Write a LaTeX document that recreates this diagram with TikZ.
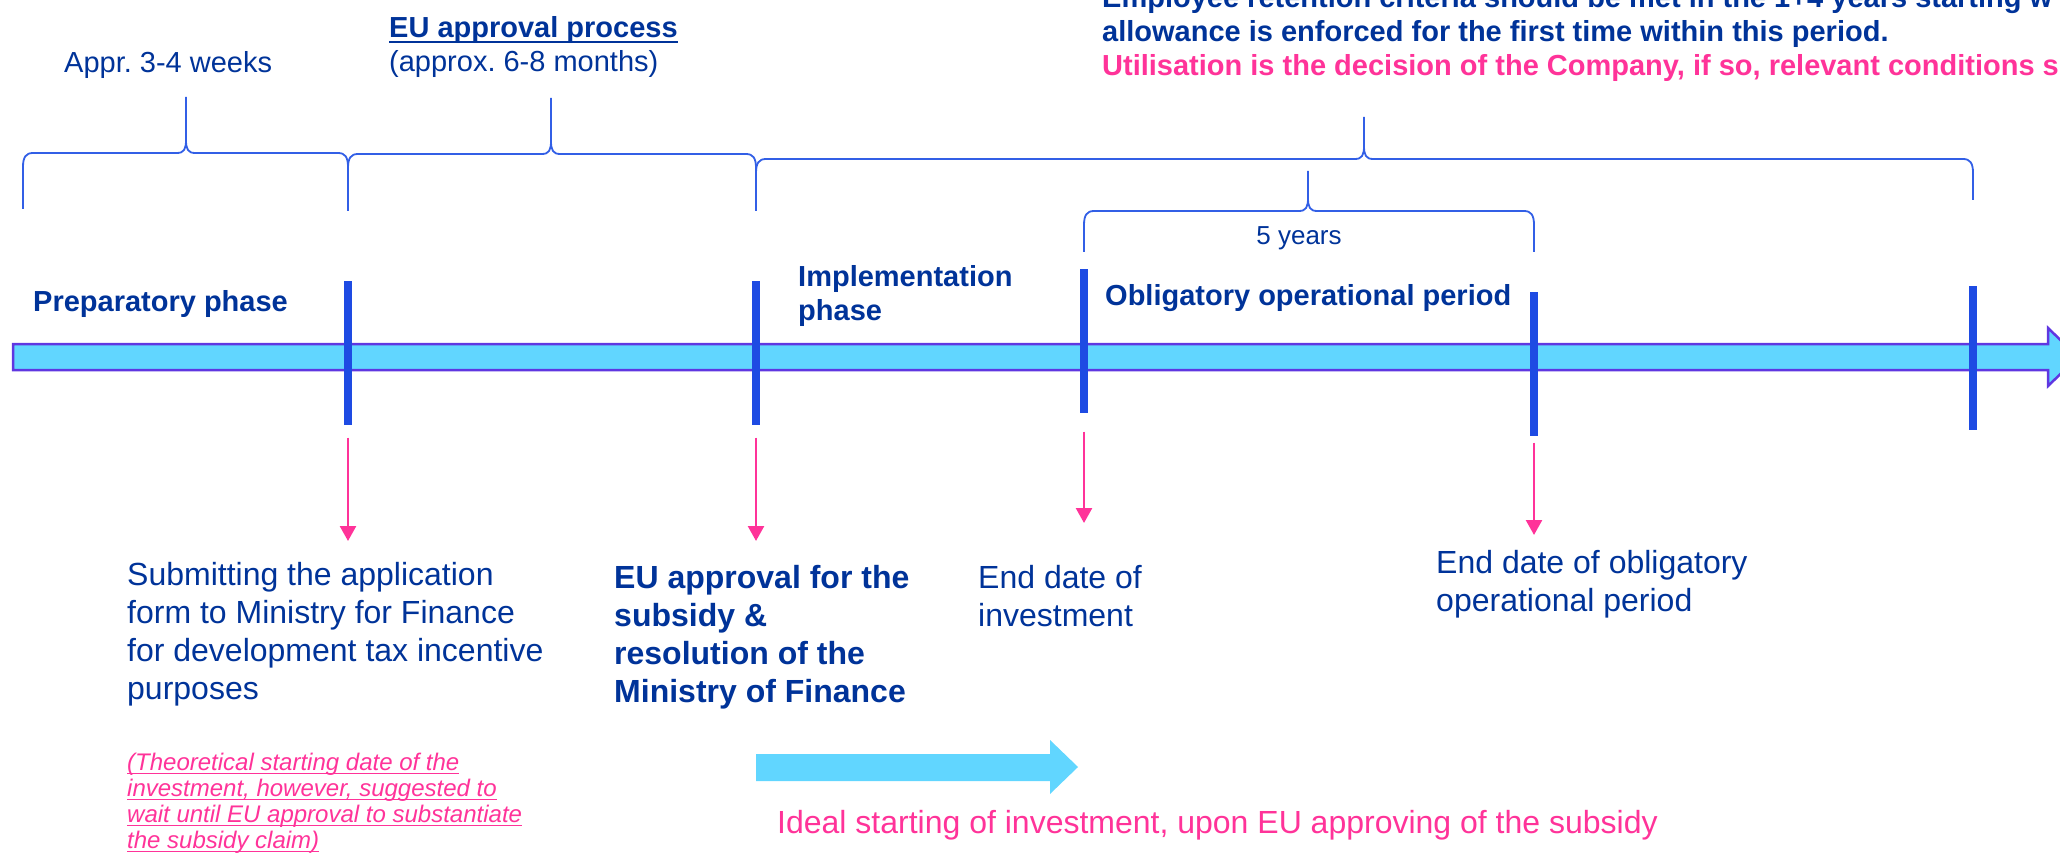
\documentclass[tikz,border=0pt]{standalone}
\usepackage{fontspec}
\setmainfont{Liberation Sans}
\usepackage{xcolor}
\definecolor{navy}{RGB}{0,51,153}
\definecolor{hotpink}{RGB}{255,51,153}
\definecolor{sky}{RGB}{97,214,255}
\definecolor{royal}{RGB}{30,75,227}
\definecolor{bracecol}{RGB}{50,95,230}
\definecolor{rim}{RGB}{95,55,225}
\usetikzlibrary{arrows.meta,positioning,calc}
\frenchspacing

% underline with a rule that scales with the font
\newcommand{\uln}[1]{\setbox0\hbox{#1}\rlap{\rule[-0.17em]{\wd0}{0.065em}}\box0}

% #1 left x, #2 right x, #3 tip x, #4 flat y, #5 tip y, #6 left foot y, #7 right foot y
\newcommand{\phasebrace}[7]{%
  \draw[curly] (#1,#6) -- (#1,#4+14) .. controls (#1,#4+4) and (#1+3,#4) .. (#1+10,#4)
    -- (#3-9,#4) .. controls (#3-2,#4) and (#3,#4-4) .. (#3,#4-13) -- (#3,#5)
    (#3,#4-13) .. controls (#3,#4-4) and (#3+2,#4) .. (#3+9,#4)
    -- (#2-10,#4) .. controls (#2-3,#4) and (#2,#4+4) .. (#2,#4+14) -- (#2,#7);}

\begin{document}
\begin{tikzpicture}[x=1pt, y=-1pt,
  % multi-line labels sit on the baseline of their last line
  lbl/.style={anchor=base west, inner sep=0pt, align=left, text=navy},
  phase/.style={lbl, font=\fontsize{29}{34}\selectfont\bfseries},
  span/.style={lbl, font=\fontsize{29}{34}\selectfont},
  note/.style={lbl, font=\fontsize{32}{38}\selectfont},
  milestone/.style={rectangle, fill=royal, minimum width=8pt, minimum height=143pt, inner sep=0pt},
  curly/.style={draw=bracecol, line width=1.8pt},
  drop/.style={-{Triangle[width=16pt,length=15pt]}, line width=2.5pt, color=hotpink}
]
\useasboundingbox (0,0) rectangle (2060,858);
\clip (0,0) rectangle (2060,858);

% braces above the timeline
\phasebrace{23}{348}{186}{153}{97}{209}{211}
\phasebrace{348}{756}{551}{154}{98}{211}{211}
\phasebrace{756}{1973}{1364}{159}{117}{211}{200}
\phasebrace{1084}{1534}{1308}{211}{171}{252}{252}

% timeline
\draw[draw=rim, fill=sky, line width=2.5pt] (13,344) -- (2048,344) -- (2048,328) -- (2078,357)
  -- (2048,386) -- (2048,370) -- (13,370) -- cycle;

\node[milestone] (bar1) at (348,353) {};
\node[milestone] (bar2) at (756,353) {};
\node[milestone] (bar3) at (1084,341) {};
\node[milestone] (bar4) at (1534,364) {};
\node[milestone] (bar5) at (1973,358) {};

% texts above
\node[phase] (keep) at (1102,76) {Employee retention criteria should be met in the 1+4 years starting w\\allowance is enforced for the first time within this period.\\\textcolor{hotpink}{Utilisation is the decision of the Company, if so, relevant conditions s}};
\node[phase] (eup) at (389,38) {\uln{EU approval process}};
\node[span] (eum) at (389,72) {(approx. 6-8 months)};
\node[span] (wks) at (64,73) {Appr. 3-4 weeks};
\node[lbl, anchor=base, font=\fontsize{26}{30}\selectfont] (yrs) at (1299,245) {5 years};

\node[phase] (prep) at (33,312) {Preparatory phase};
\node[phase] (impl) at (798,320) {Implementation\\phase};
\node[phase] (oblig) at (1105,306) {Obligatory operational period};

% texts below
\node[note] (sub) at (127,699) {Submitting the application\\form to Ministry for Finance\\for development tax incentive\\purposes};
\node[note, font=\fontsize{32}{38}\selectfont\bfseries] (appr) at (614,702) {EU approval for the\\subsidy \&\\resolution of the\\Ministry of Finance};
\node[note] (endinv) at (978,626) {End date of\\investment};
\node[note] (endop) at (1436,611) {End date of obligatory\\operational period};
\node[lbl, text=hotpink, font=\fontsize{24}{26}\selectfont\itshape] (theo) at (127,848)
  {\uln{(Theoretical starting date of the}\\\uln{investment, however, suggested to}\\\uln{wait until EU approval to substantiate}\\\uln{the subsidy claim)}};
\node[note, text=hotpink] (ideal) at (777,833) {Ideal starting of investment, upon EU approving of the subsidy};

% milestone arrows
\coordinate (tip1) at (348,541);
\coordinate (tip2) at (756,541);
\coordinate (tip3) at (1084,523);
\coordinate (tip4) at (1534,535);
\draw[drop, shorten <=13pt] (bar1.south) -- (tip1);
\draw[drop, shorten <=13pt] (bar2.south) -- (tip2);
\draw[drop, shorten <=19pt] (bar3.south) -- (tip3);
\draw[drop, shorten <=7pt] (bar4.south) -- (tip4);

% ideal start arrow
\fill[sky] (756,754) -- (1050,754) -- (1050,740) -- (1078,767) -- (1050,794) -- (1050,781) -- (756,781) -- cycle;
\end{tikzpicture}
\end{document}
